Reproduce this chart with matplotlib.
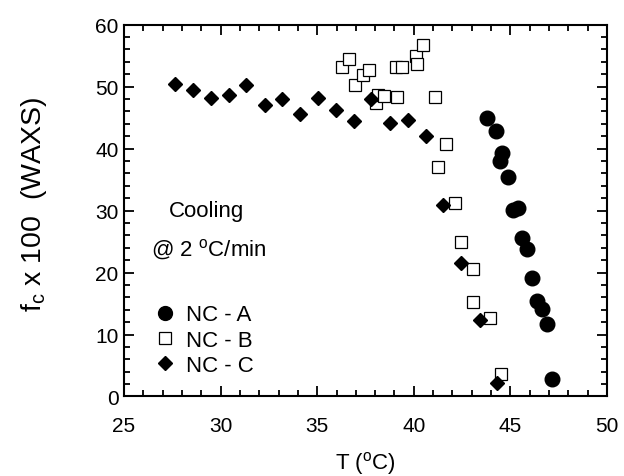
import matplotlib
matplotlib.use("Agg")
import matplotlib.pyplot as plt
from matplotlib.ticker import MultipleLocator

plt.rcParams["font.family"] = ["Liberation Sans", "DejaVu Sans"]
plt.rcParams["mathtext.default"] = "regular"

# NC - A (filled circles)
t_a = [43.81, 44.24, 44.59, 44.46, 44.85, 45.11, 45.37, 45.58, 45.85, 46.11,
       46.37, 46.61, 46.89, 47.15]
fc_a = [44.9, 42.8, 39.3, 38.0, 35.4, 30.1, 30.4, 25.6, 23.8, 19.1,
        15.4, 14.1, 11.7, 2.9]

# NC - B (open squares)
t_b = [36.29, 36.63, 36.95, 37.36, 37.67, 38.02, 38.16, 38.45, 39.06, 39.11,
       39.40, 40.09, 40.18, 40.47, 41.10, 41.67, 41.25, 42.12, 42.46, 43.08,
       43.08, 43.95, 44.50]
fc_b = [53.1, 54.5, 50.2, 51.9, 52.7, 47.3, 48.6, 48.5, 53.1, 48.4,
        53.2, 54.9, 53.7, 56.7, 48.4, 40.8, 37.1, 31.2, 24.9, 20.6,
        15.2, 12.6, 3.7]

# NC - C (filled diamonds)
t_c = [27.65, 28.56, 29.50, 30.41, 31.34, 32.28, 33.19, 34.13, 35.06, 35.98,
       36.91, 37.81, 38.76, 39.69, 40.62, 41.53, 42.46, 43.40, 44.31]
fc_c = [50.5, 49.5, 48.1, 48.6, 50.2, 47.0, 48.0, 45.6, 48.1, 46.3,
        44.4, 48.0, 44.2, 44.6, 42.0, 30.9, 21.5, 12.3, 2.1]

fig = plt.figure(figsize=(6.24, 4.77), dpi=100)
ax = fig.add_axes([0.1987, 0.1667, 0.7741, 0.7794])

ax.plot(t_a, fc_a, "o", color="black", markersize=10.5, label="NC - A", zorder=3)
ax.plot(t_b, fc_b, "s", markerfacecolor="white", markeredgecolor="black",
        markeredgewidth=0.9, markersize=8.8, label="NC - B", zorder=2)
ax.plot(t_c, fc_c, "D", color="black", markersize=7.2, label="NC - C", zorder=4)

ax.set_xlim(25, 50)
ax.set_ylim(0, 60)
ax.xaxis.set_major_locator(MultipleLocator(5))
ax.xaxis.set_minor_locator(MultipleLocator(1))
ax.yaxis.set_major_locator(MultipleLocator(10))
ax.yaxis.set_minor_locator(MultipleLocator(2))
ax.tick_params(which="both", direction="in", top=True, right=True,
               width=1.3, labelsize=15)
ax.tick_params(axis="x", which="both", pad=14)
ax.tick_params(axis="y", which="both", pad=4)
ax.tick_params(which="major", length=7)
ax.tick_params(which="minor", length=4)
for s in ax.spines.values():
    s.set_linewidth(1.5)

ax.set_xlabel("T ($^{o}$C)", fontsize=16)
ax.set_ylabel("f$_{c}$ x 100  (WAXS)", fontsize=20.5)
ax.xaxis.set_label_coords(0.5, -0.142)
ax.yaxis.set_label_coords(-0.155, 0.52)

ax.text(0.170, 0.4997, "Cooling", transform=ax.transAxes, fontsize=16,
        ha="center", va="center")
ax.text(0.176, 0.3986, "@ 2 $^{o}$C/min", transform=ax.transAxes, fontsize=16,
        ha="center", va="center")

ax.legend(loc="upper left", bbox_to_anchor=(0.065, 0.248), frameon=False,
          fontsize=16, handlelength=0.9, handletextpad=0.5, borderpad=0,
          borderaxespad=0, labelspacing=0.19, markerscale=0.95)

fig.savefig("out.png", dpi=100)
